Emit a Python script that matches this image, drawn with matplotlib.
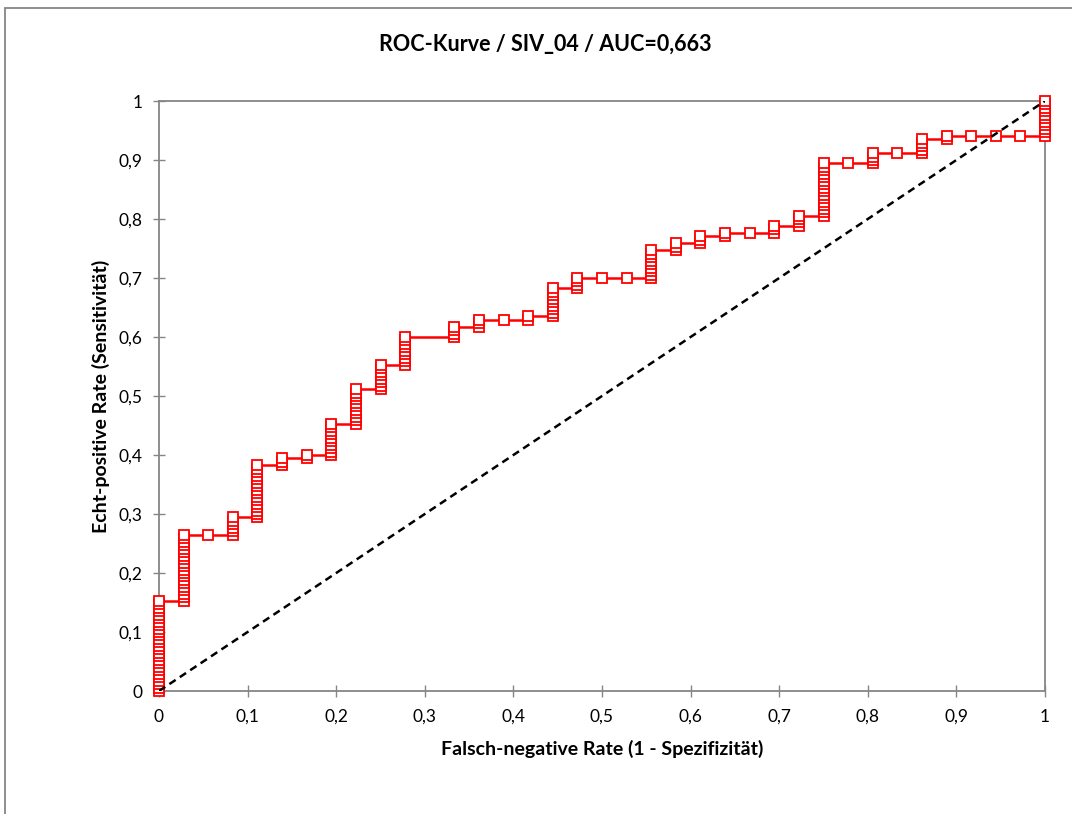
import numpy as np
import matplotlib.pyplot as plt
from matplotlib.patches import Rectangle

plt.rcParams['font.family'] = ['Lato', 'DejaVu Sans']

# Daten: kumulierte Zaehlungen am Ende jedes senkrechten Abschnitts
n_neg = 36
n_pos = 170
fp_cum = [0, 1, 2, 3, 4, 5, 6, 7, 8, 9, 10, 12, 13, 14, 15, 16, 17, 18,
          19, 20, 21, 22, 23, 24, 25, 26, 27, 28, 29, 30, 31, 32, 33, 34,
          35, 36]
tp_cum = [26, 45, 45, 50, 65, 67, 68, 77, 87, 94, 102, 105, 107, 107, 108,
          116, 119, 119, 119, 127, 129, 131, 132, 132, 134, 137, 152, 152,
          155, 155, 159, 160, 160, 160, 160, 170]

xticks = np.arange(0, 1.01, 0.1)
yticks = np.arange(0, 1.01, 0.1)

def fmt(v):
    s = ('%.1f' % v).replace('.', ',')
    return s.replace(',0', '') if s.endswith(',0') else s

# ROC-Punkte aufbauen
fx, fy = [0], [0]
prev_fp, prev_tp = 0, 0
for fp, tp in zip(fp_cum, tp_cum):
    if fp != prev_fp:
        fx.append(fp)
        fy.append(prev_tp)
    for t in range(prev_tp + 1, tp + 1):
        fx.append(fp)
        fy.append(t)
    prev_fp, prev_tp = fp, tp
fpr = np.array(fx) / n_neg
tpr = np.array(fy) / n_pos

fig = plt.figure(figsize=(10.72, 8.14), dpi=100)
ax = fig.add_axes([159 / 1072, 1 - 691 / 814, (1045 - 159) / 1072, (691 - 101) / 814])

ax.plot(fpr, tpr, color='#ff0000', lw=1.8, marker='s', ms=6.5,
        mfc='white', mec='#ff0000', mew=1.3, zorder=3, clip_on=False)
ax.plot([0, 1], [0, 1], color='black', lw=1.8, ls=(0, (3, 2)), zorder=4)

ax.set_xlim(0, 1)
ax.set_ylim(0, 1)
ax.set_xticks(xticks)
ax.set_yticks(yticks)
ax.set_xticklabels([fmt(v) for v in xticks])
ax.set_yticklabels([fmt(v) for v in yticks])
ax.tick_params(direction='inout', length=8, width=1, color='#868686',
               labelsize=12.5)
ax.tick_params(axis='x', pad=9)
ax.tick_params(axis='y', pad=8)
for s in ax.spines.values():
    s.set_color('#868686')
    s.set_linewidth(1.3)

ax.set_xlabel('Falsch-negative Rate (1 - Spezifizität)', fontsize=14,
              fontweight='bold', labelpad=11)
ax.set_ylabel('Echt-positive Rate (Sensitivität)', fontsize=14,
              fontweight='bold', labelpad=6)
fig.text(545 / 1072, 1 - 44 / 814, 'ROC-Kurve / SIV_04 / AUC=0,663',
         ha='center', va='center', fontsize=15.5, fontweight='bold')

fig.patches.append(Rectangle((4.5 / 1072, -0.05), 1.1, 1.05 - 8 / 814,
                             transform=fig.transFigure, fill=False,
                             edgecolor='#868686', lw=1.3))

fig.savefig('out.png', dpi=100)
